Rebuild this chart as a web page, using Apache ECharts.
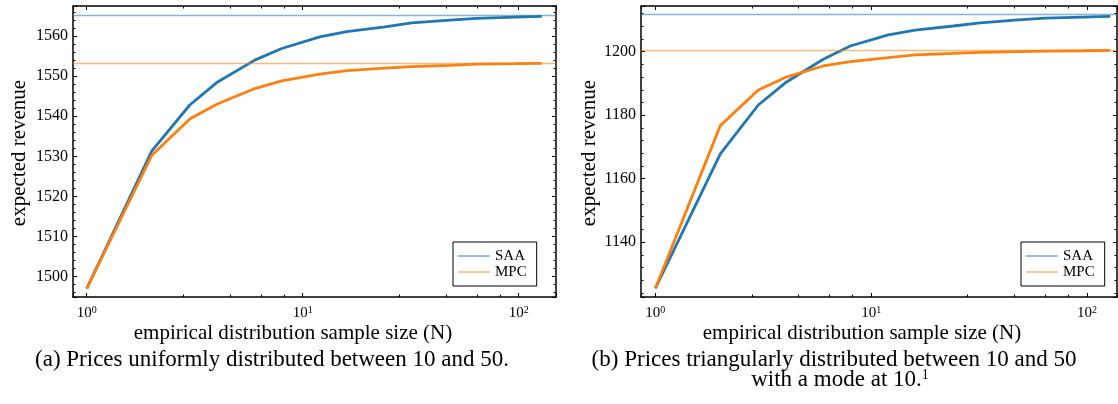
<!DOCTYPE html>
<html>
<head>
<meta charset="utf-8">
<script src="https://cdn.jsdelivr.net/npm/echarts@6/dist/echarts.min.js"></script>
<style>
  html, body { margin: 0; padding: 0; background: #fff; }
  #chart { width: 1118px; height: 404px; }
</style>
</head>
<body>
<div id="chart"></div>
<script>
// sample sizes N (x axis, log scale)
const sampleSizes = [1, 2, 3, 4, 6, 8, 12, 16, 24, 32, 48, 64, 96, 128];

// (a) uniform prices
const uniformSAA = [1497.0, 1531.3, 1542.8, 1548.4, 1554.0, 1556.9, 1559.8, 1561.1, 1562.3, 1563.3, 1564.0, 1564.4, 1564.7, 1564.9];
const uniformMPC = [1497.0, 1530.2, 1539.3, 1543.0, 1546.9, 1548.8, 1550.5, 1551.4, 1552.0, 1552.4, 1552.7, 1553.0, 1553.1, 1553.2];
const uniformLimits = { SAA: 1565.3, MPC: 1553.3 };

// (b) triangular prices
const triangSAA = [1125.4, 1167.8, 1183.2, 1190.2, 1197.6, 1201.8, 1205.3, 1206.8, 1208.1, 1209.1, 1210.0, 1210.6, 1210.9, 1211.1];
const triangMPC = [1125.4, 1176.7, 1187.9, 1191.9, 1195.5, 1196.9, 1198.1, 1199.0, 1199.5, 1199.8, 1200.0, 1200.2, 1200.3, 1200.4];
const triangLimits = { SAA: 1211.65, MPC: 1200.6 };

const SERIF = '"Liberation Serif", "DejaVu Serif", serif';
const BLUE = '#1f77b4';
const ORANGE = '#ff7f0e';

const pairs = (ys) => sampleSizes.map((n, i) => [n, ys[i]]);

const isPow10 = (v) => Math.abs(Math.log10(v) - Math.round(Math.log10(v))) < 1e-6;

// x axis (bottom with labels, top mirrored)
const makeX = (gridIndex, min, max, top) => ({
    type: 'log', logBase: 10, gridIndex, min, max,
    position: top ? 'top' : 'bottom',
    axisLine: { show: true, onZero: false, lineStyle: { color: '#000', width: 1.5 } },
    axisTick: { show: true, inside: true, length: 4, lineStyle: { color: '#000' } },
    minorTick: { show: true, splitNumber: 5, length: 2.5, lineStyle: { color: '#000' } },
    splitLine: { show: false },
    axisLabel: {
        show: !top, margin: 8, color: '#000', fontFamily: SERIF,
        showMinLabel: false, showMaxLabel: false,
        formatter: (v) => isPow10(v) ? '{b|10}{s|' + Math.round(Math.log10(v)) + '}' : '',
        rich: {
            b: { fontSize: 15, fontFamily: SERIF, color: '#000' },
            s: { fontSize: 10, fontFamily: SERIF, color: '#000', verticalAlign: 'top', padding: [0, 0, 6, 0] }
        }
    }
});

// y axis (left with labels, right mirrored)
const makeY = (gridIndex, min, max, split, right) => ({
    type: 'value', gridIndex, min, max, splitNumber: split, scale: true,
    position: right ? 'right' : 'left',
    axisLine: { show: true, onZero: false, lineStyle: { color: '#000', width: 1.5 } },
    axisTick: { show: true, inside: true, length: 4, lineStyle: { color: '#000' } },
    minorTick: { show: true, splitNumber: 5, length: 2.5, lineStyle: { color: '#000' } },
    splitLine: { show: false },
    axisLabel: {
        show: !right, margin: 5, color: '#000', fontFamily: SERIF, fontSize: 16,
        showMinLabel: false, showMaxLabel: false,
        formatter: (v) => String(Math.round(v))
    }
});

const limitLine = (value, color) => ({
    silent: true, symbol: 'none', animation: false,
    label: { show: false },
    lineStyle: { color, width: 1.3, type: 'solid', opacity: 0.55 },
    data: [{ yAxis: value }]
});

const makeSeries = (name, ys, limit, color, xi, yi) => ({
    name, type: 'line', data: pairs(ys), xAxisIndex: xi, yAxisIndex: yi,
    symbol: 'none', smooth: false,
    lineStyle: { color, width: 2.8 }, itemStyle: { color },
    markLine: limitLine(limit, color),
    z: 3
});

const makeLegend = (left) => ({
    left, top: 242, orient: 'vertical',
    borderColor: '#000', borderWidth: 1, borderRadius: 0,
    padding: [6, 10, 6, 5], itemGap: 0,
    itemWidth: 32, itemHeight: 1.5, icon: 'rect',
    textStyle: { fontFamily: SERIF, fontSize: 15, color: '#000', lineHeight: 16, padding: [0, 0, 0, 0] },
    data: [
        { name: 'SAA', itemStyle: { color: '#74a9d4' } },
        { name: 'MPC', itemStyle: { color: '#ffb574' } }
    ],
    selectedMode: false
});

const txt = (text, x, y, size, extra) => ({
    type: 'text', x, y, silent: true,
    style: Object.assign({
        text, font: size + 'px ' + SERIF, fill: '#000',
        textAlign: 'center', textVerticalAlign: 'middle'
    }, extra || {})
});

const chart = echarts.init(document.getElementById('chart'), null, { renderer: 'canvas' });

chart.setOption({
    backgroundColor: '#fff',
    animation: false,
    grid: [
        { left: 73, top: 6, width: 483, height: 291 },
        { left: 641, top: 6, width: 476, height: 291 }
    ],
    xAxis: [
        makeX(0, 0.864, 148.9, false),
        makeX(0, 0.864, 148.9, true),
        makeX(1, 0.858, 137.7, false),
        makeX(1, 0.858, 137.7, true)
    ],
    yAxis: [
        makeY(0, 1494.9, 1567.5, 7, false),
        makeY(0, 1494.9, 1567.5, 7, true),
        makeY(1, 1122.7, 1214.4, 5, false),
        makeY(1, 1122.7, 1214.4, 5, true)
    ],
    legend: [makeLegend(453), makeLegend(1021)],
    series: [
        makeSeries('SAA', uniformSAA, uniformLimits.SAA, BLUE, 0, 0),
        makeSeries('MPC', uniformMPC, uniformLimits.MPC, ORANGE, 0, 0),
        makeSeries('SAA', triangSAA, triangLimits.SAA, BLUE, 2, 2),
        makeSeries('MPC', triangMPC, triangLimits.MPC, ORANGE, 2, 2)
    ],
    graphic: [
        txt('expected revenue', 19, 153, 21, { rotation: 0 }),
        txt('empirical distribution sample size (N)', 293, 333, 21),
        txt('(a) Prices uniformly distributed between 10 and 50.', 272, 360, 23),
        txt('expected revenue', 589, 153, 21),
        txt('empirical distribution sample size (N)', 862, 333, 21),
        txt('(b) Prices triangularly distributed between 10 and 50', 834, 360, 23),
        {
            type: 'text', x: 840, y: 380, silent: true,
            style: {
                text: '{t|with a mode at 10.}{s|1}',
                textAlign: 'center', textVerticalAlign: 'middle',
                rich: {
                    t: { font: '23px ' + SERIF, fill: '#000' },
                    s: { font: '14px ' + SERIF, fill: '#000', verticalAlign: 'top' }
                }
            }
        }
    ].map((g, i) => (i === 0 || i === 3) ? Object.assign(g, { rotation: Math.PI / 2 }) : g)
});
</script>
</body>
</html>
